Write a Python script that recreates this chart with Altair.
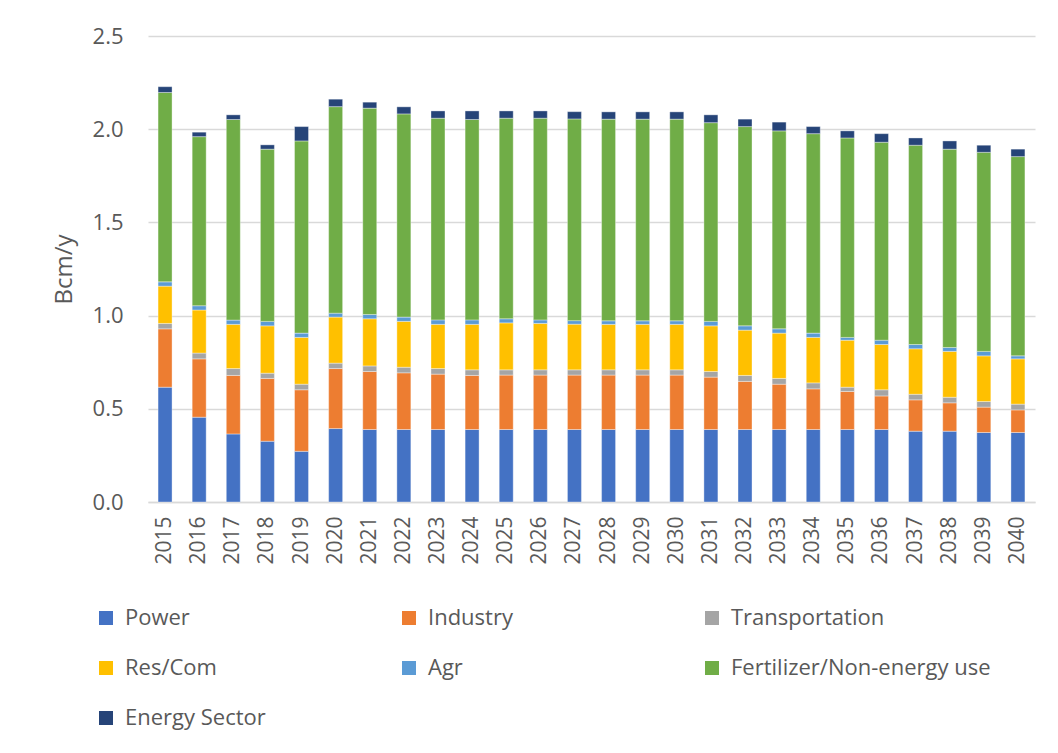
import altair as alt
import pandas as pd

years = [str(y) for y in range(2015, 2041)]

series = ["Power", "Industry", "Transportation", "Res/Com", "Agr",
          "Fertilizer/Non-energy use", "Energy Sector"]
colors = ["#4472C4", "#ED7D31", "#A5A5A5", "#FFC000", "#5B9BD5", "#70AD47", "#264478"]

power = [0.616, 0.455, 0.365, 0.326, 0.272, 0.394, 0.389, 0.389, 0.389, 0.389,
         0.389, 0.389, 0.389, 0.389, 0.389, 0.389, 0.389, 0.389, 0.389, 0.389,
         0.389, 0.389, 0.380, 0.380, 0.373, 0.373]
industry = [0.313, 0.313, 0.314, 0.337, 0.330, 0.322, 0.311, 0.304, 0.297, 0.290,
            0.292, 0.292, 0.292, 0.292, 0.292, 0.292, 0.281, 0.258, 0.243, 0.218,
            0.204, 0.180, 0.168, 0.152, 0.136, 0.121]
transportation = [0.029, 0.031, 0.037, 0.028, 0.030, 0.029, 0.030, 0.030, 0.030, 0.030,
                  0.028, 0.028, 0.028, 0.028, 0.028, 0.028, 0.030, 0.032, 0.031, 0.032,
                  0.023, 0.033, 0.030, 0.030, 0.030, 0.031]
rescom = [0.200, 0.231, 0.237, 0.254, 0.251, 0.247, 0.253, 0.246, 0.237, 0.244,
          0.252, 0.249, 0.245, 0.244, 0.244, 0.244, 0.245, 0.243, 0.243, 0.244,
          0.252, 0.243, 0.244, 0.246, 0.245, 0.243]
agr = [0.023, 0.023, 0.023, 0.024, 0.023, 0.021, 0.023, 0.023, 0.024, 0.024,
       0.022, 0.019, 0.019, 0.019, 0.019, 0.019, 0.024, 0.023, 0.023, 0.023,
       0.015, 0.023, 0.023, 0.021, 0.024, 0.016]
fertilizer = [1.016, 0.907, 1.076, 0.924, 1.031, 1.108, 1.107, 1.090, 1.082, 1.075,
              1.076, 1.082, 1.082, 1.082, 1.082, 1.082, 1.066, 1.069, 1.062, 1.070,
              1.070, 1.062, 1.069, 1.064, 1.068, 1.069]
energy = [0.031, 0.024, 0.025, 0.023, 0.077, 0.040, 0.032, 0.038, 0.039, 0.046,
          0.039, 0.039, 0.039, 0.039, 0.039, 0.039, 0.042, 0.040, 0.047, 0.038,
          0.038, 0.046, 0.039, 0.044, 0.038, 0.040]

values = [power, industry, transportation, rescom, agr, fertilizer, energy]

rows = []
for si, (name, vals) in enumerate(zip(series, values)):
    for yr, v in zip(years, vals):
        rows.append({"year": yr, "series": name, "value": v, "idx": si})
df = pd.DataFrame(rows)

FONT = "Open Sans"
GREY = "#595959"

chart = alt.Chart(df).mark_bar(stroke="white", strokeWidth=0.6, strokeOpacity=0.6).encode(
    x=alt.X("year:N", sort=years,
            scale=alt.Scale(paddingInner=0.59, paddingOuter=0.295),
            axis=alt.Axis(title=None, labelAngle=-90, labelPadding=14, ticks=False,
                          domainColor="#d9d9d9", domainWidth=1.5,
                          labelFontSize=21, labelColor=GREY, labelFont=FONT)),
    y=alt.Y("value:Q", stack="zero",
            scale=alt.Scale(domain=[0, 2.5], nice=False),
            axis=alt.Axis(title="Bcm/y", values=[0, 0.5, 1.0, 1.5, 2.0, 2.5], format=".1f",
                          ticks=False, domain=False, labelPadding=25,
                          gridColor="#d9d9d9", gridWidth=1.5,
                          labelFontSize=22, labelColor=GREY, labelFont=FONT,
                          titleFontSize=24, titleColor=GREY, titleFont=FONT,
                          titleFontWeight="normal", titlePadding=16)),
    color=alt.Color("series:N", sort=series,
                    scale=alt.Scale(domain=series, range=colors),
                    legend=alt.Legend(title=None, orient="none", direction="horizontal",
                                      legendX=-53, legendY=571,
                                      columns=3, gridAlign="all", columnPadding=13,
                                      rowPadding=28, symbolType="square", symbolSize=196,
                                      symbolStrokeWidth=0, labelOffset=8, labelLimit=500,
                                      labelFontSize=22, labelColor=GREY, labelFont=FONT,
                                      padding=0)),
    order=alt.Order("idx:Q", sort="ascending"),
).properties(
    width=887, height=466,
    autosize=alt.AutoSizeParams(type="none"),
    padding={"left": 140, "top": 28, "right": 15, "bottom": 243},
).configure_view(stroke=None)

chart.save("out.html", embed_options={"renderer": "svg", "actions": False})
